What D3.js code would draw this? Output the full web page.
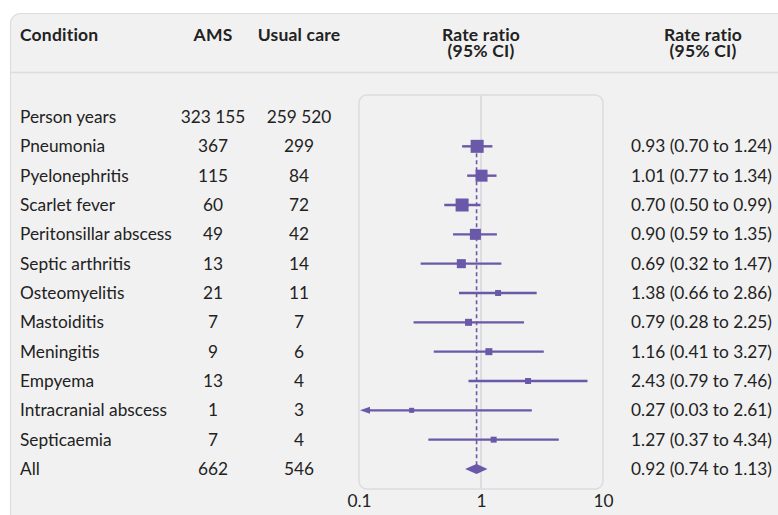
<!DOCTYPE html>
<html>
<head>
<meta charset="utf-8">
<script src="https://cdn.jsdelivr.net/npm/d3@7"></script>
<style>
  body { margin: 0; background: #fff; }
  svg text { font-family: Lato, "Noto Sans", sans-serif; fill: #222; }
  .head { font-weight: 700; font-size: 17.5px; letter-spacing: 0.2px; }
  .cell { font-size: 17.3px; }
</style>
</head>
<body>
<div id="chart"></div>
<script>
const conditions = ["Pneumonia", "Pyelonephritis", "Scarlet fever", "Peritonsillar abscess",
  "Septic arthritis", "Osteomyelitis", "Mastoiditis", "Meningitis", "Empyema",
  "Intracranial abscess", "Septicaemia"];
const amsEvents = [367, 115, 60, 49, 13, 21, 7, 9, 13, 1, 7];
const usualEvents = [299, 84, 72, 42, 14, 11, 7, 6, 4, 3, 4];
const rateRatio = [0.93, 1.01, 0.70, 0.90, 0.69, 1.38, 0.79, 1.16, 2.43, 0.27, 1.27];
const ciLow = [0.70, 0.77, 0.50, 0.59, 0.32, 0.66, 0.28, 0.41, 0.79, 0.03, 0.37];
const ciHigh = [1.24, 1.34, 0.99, 1.35, 1.47, 2.86, 2.25, 3.27, 7.46, 2.61, 4.34];
// relative weight (%) shown by square area
const weight = [100, 85, 100, 72, 48, 21, 29, 29, 21, 15, 21];
const personYears = ["323 155", "259 520"];
const overall = { label: "All", ams: 662, usual: 546, rr: 0.92, lo: 0.74, hi: 1.13 };
const axisTicks = [0.1, 1, 10];

const W = 778, H = 515;
const purple = "#6a58a8";
const grid = "#dcdce1";

const svg = d3.select("#chart").append("svg")
  .attr("width", W).attr("height", H);

// card
svg.append("rect")
  .attr("x", 10.5).attr("y", 13.5).attr("width", 790).attr("height", 540)
  .attr("rx", 10).attr("fill", "#f1f1f1").attr("stroke", grid).attr("stroke-width", 1.2);
svg.append("line").attr("x1", 11).attr("x2", W).attr("y1", 72.5).attr("y2", 72.5)
  .attr("stroke", grid).attr("stroke-width", 1.5);

// headers
svg.append("text").attr("class", "head").attr("x", 20).attr("y", 41).text("Condition");
svg.append("text").attr("class", "head").attr("x", 213).attr("y", 41).attr("text-anchor", "middle").text("AMS");
svg.append("text").attr("class", "head").attr("x", 299).attr("y", 41).attr("text-anchor", "middle").text("Usual care");
[481, 703].forEach(cx => {
  svg.append("text").attr("class", "head").attr("x", cx).attr("y", 41).attr("text-anchor", "middle").text("Rate ratio");
  svg.append("text").attr("class", "head").attr("x", cx).attr("y", 56.5).attr("text-anchor", "middle").text("(95% CI)");
});

// scales
const x = d3.scaleLog().domain([0.1, 10]).range([359, 603]);
const rows = ["Person years", ...conditions, overall.label];
const y = d3.scalePoint().domain(rows).range([117, 469]);
const size = d3.scaleSqrt().domain([0, 100]).range([0, 13]);

// plot panel
svg.append("rect")
  .attr("x", x(0.1)).attr("y", 95).attr("width", x(10) - x(0.1)).attr("height", 394)
  .attr("rx", 8).attr("fill", "none").attr("stroke", grid).attr("stroke-width", 1.5);
svg.append("line").attr("x1", x(1)).attr("x2", x(1)).attr("y1", 95).attr("y2", 489)
  .attr("stroke", grid).attr("stroke-width", 2);

// axis
const axis = svg.append("g").attr("transform", "translate(0,489)")
  .call(d3.axisBottom(x).tickValues(axisTicks).tickFormat(d3.format("")).tickSize(0).tickPadding(6));
axis.select(".domain").remove();
axis.selectAll("text").attr("class", "cell").attr("font-size", null).attr("font-family", null).style("fill", "#222");

// table text
const fmt = v => v.toFixed(2);
const tableRows = [
  { label: "Person years", a: personYears[0], u: personYears[1], ci: "" },
  ...conditions.map((c, i) => ({ label: c, a: amsEvents[i], u: usualEvents[i],
    ci: `${fmt(rateRatio[i])} (${fmt(ciLow[i])} to ${fmt(ciHigh[i])})` })),
  { label: overall.label, a: overall.ams, u: overall.usual,
    ci: `${fmt(overall.rr)} (${fmt(overall.lo)} to ${fmt(overall.hi)})` }
];
const tr = svg.append("g").selectAll("g").data(tableRows).join("g")
  .attr("transform", d => `translate(0,${y(d.label)})`);
tr.append("text").attr("class", "cell").attr("x", 20).attr("dy", "0.35em").text(d => d.label);
tr.append("text").attr("class", "cell").attr("x", 213).attr("dy", "0.35em").attr("text-anchor", "middle").text(d => d.a);
tr.append("text").attr("class", "cell").attr("x", 299).attr("dy", "0.35em").attr("text-anchor", "middle").text(d => d.u);
tr.append("text").attr("class", "cell").attr("x", 772).attr("dy", "0.35em").attr("text-anchor", "end").text(d => d.ci);

// reference dashed line at overall estimate
svg.append("line")
  .attr("x1", x(overall.rr)).attr("x2", x(overall.rr))
  .attr("y1", y(conditions[0])).attr("y2", y(overall.label))
  .attr("stroke", purple).attr("stroke-width", 1.6).attr("stroke-dasharray", "4,3");

// CIs and squares
const est = conditions.map((c, i) => ({ c, rr: rateRatio[i], lo: ciLow[i], hi: ciHigh[i], w: weight[i] }));
const g = svg.append("g").selectAll("g").data(est).join("g")
  .attr("transform", d => `translate(0,${y(d.c)})`);
g.append("line")
  .attr("x1", d => d.lo < 0.1 ? x(0.1) + 8 : x(d.lo))
  .attr("x2", d => x(d.hi))
  .attr("stroke", purple).attr("stroke-width", 2.4);
g.filter(d => d.lo < 0.1).append("path")
  .attr("d", `M${x(0.1) + 1},0 L${x(0.1) + 11},-3.5 L${x(0.1) + 11},3.5 Z`)
  .attr("fill", purple);
g.append("rect")
  .attr("x", d => x(d.rr) - size(d.w) / 2).attr("y", d => -size(d.w) / 2)
  .attr("width", d => size(d.w)).attr("height", d => size(d.w))
  .attr("fill", purple);

// overall diamond
const yo = y(overall.label);
svg.append("path")
  .attr("d", `M${x(overall.lo)},${yo} L${x(overall.rr)},${yo - 5} L${x(overall.hi)},${yo} L${x(overall.rr)},${yo + 5} Z`)
  .attr("fill", purple);
</script>
</body>
</html>
